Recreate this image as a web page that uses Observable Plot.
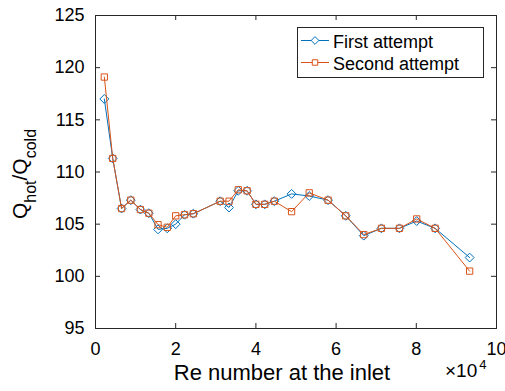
<!DOCTYPE html>
<html>
<head>
<meta charset="utf-8">
<script src="https://cdn.jsdelivr.net/npm/d3@7"></script>
<script src="https://cdn.jsdelivr.net/npm/@observablehq/plot@0.6"></script>
<style>
  body { margin: 0; background: #fff; }
  #chart { position: relative; width: 505px; height: 391px; }
</style>
</head>
<body>
<div id="chart"></div>
<script>
// ---- data (Re number at the inlet, Q_hot / Q_cold) ----
const reNumber = [2200, 4300, 6500, 8800, 11200, 13300, 15600, 17900, 20000, 22200, 24400,
                  31100, 33300, 35600, 37800, 40000, 42200, 44600, 48900, 53300, 58000,
                  62400, 66900, 71300, 75800, 80100, 84700, 93300];
const firstAttempt  = [117.0, 111.3, 106.5, 107.3, 106.4, 106.05, 104.5, 104.6, 105.0, 105.9, 106.0,
                       107.2, 106.6, 108.2, 108.2, 106.9, 106.9, 107.2, 107.9, 107.7, 107.3,
                       105.8, 103.9, 104.6, 104.6, 105.3, 104.6, 101.8];
const secondAttempt = [119.1, 111.3, 106.5, 107.3, 106.4, 106.05, 104.95, 104.7, 105.8, 105.9, 106.0,
                       107.2, 107.2, 108.3, 108.2, 106.9, 106.9, 107.2, 106.2, 108.0, 107.3,
                       105.8, 104.0, 104.6, 104.6, 105.5, 104.6, 100.5];
const seriesNames = ["First attempt", "Second attempt"];
const seriesColors = ["#0072BD", "#D95319"];
const xTicks = [0, 2, 4, 6, 8, 10];      // in units of 10^4
const yTicks = [95, 100, 105, 110, 115, 120, 125];
const xExponent = 4;

// ---- layout ----
const W = 505, H = 391;
const mL = 95, mR = 9, mT = 15, mB = 63;
const pw = W - mL - mR, ph = H - mT - mB;
const axisColor = "#262626";
const font = "'Liberation Sans', Arial, Helvetica, sans-serif";

const first = reNumber.map((re, i) => ({x: re / Math.pow(10, xExponent), y: firstAttempt[i]}));
const second = reNumber.map((re, i) => ({x: re / Math.pow(10, xExponent), y: secondAttempt[i]}));

const chart = Plot.plot({
  width: W, height: H,
  marginLeft: mL, marginRight: mR, marginTop: mT, marginBottom: mB,
  style: {fontFamily: font, fontSize: "18px", color: axisColor, background: "white", overflow: "visible"},
  x: {domain: [xTicks[0], xTicks[xTicks.length - 1]]},
  y: {domain: [yTicks[0], yTicks[yTicks.length - 1]]},
  marks: [
    Plot.frame({stroke: axisColor, strokeWidth: 1}),
    Plot.tickX(xTicks, {x: d => d, insetTop: ph - 5, stroke: axisColor}),
    Plot.tickX(xTicks, {x: d => d, insetBottom: ph - 5, stroke: axisColor}),
    Plot.tickY(yTicks, {y: d => d, insetRight: pw - 5, stroke: axisColor}),
    Plot.tickY(yTicks, {y: d => d, insetLeft: pw - 5, stroke: axisColor}),
    Plot.axisX(xTicks, {tickSize: 0, tickPadding: 14, label: null, fontSize: 18, fill: "#000"}),
    Plot.axisY(yTicks, {tickSize: 0, tickPadding: 11, label: null, fontSize: 18, fill: "#000"}),
    Plot.line(first, {x: "x", y: "y", stroke: seriesColors[0], strokeWidth: 1}),
    Plot.dot(first, {x: "x", y: "y", symbol: "diamond2", r: 4, stroke: seriesColors[0], fill: "none", strokeWidth: 1}),
    Plot.line(second, {x: "x", y: "y", stroke: seriesColors[1], strokeWidth: 1}),
    Plot.dot(second, {x: "x", y: "y", symbol: "square2", r: 4, stroke: seriesColors[1], fill: "none", strokeWidth: 1})
  ]
});

document.getElementById("chart").appendChild(chart);
const svg = d3.select(chart);

// x label
svg.append("text")
  .attr("x", 282).attr("y", 380)
  .attr("text-anchor", "middle")
  .attr("font-family", font).attr("font-size", 22).attr("fill", "#000")
  .text("Re number at the inlet");

// x exponent
const ex = svg.append("text")
  .attr("x", 445).attr("y", 377)
  .attr("text-anchor", "start")
  .attr("font-family", font).attr("font-size", 19).attr("fill", "#000");
ex.append("tspan").text("\u00d710");
ex.append("tspan").attr("dy", -8).attr("dx", 2).attr("font-size", 13).text(String(xExponent));

// y label with subscripts
const yl = svg.append("text")
  .attr("transform", "translate(27,174) rotate(-90)")
  .attr("text-anchor", "middle")
  .attr("font-family", font).attr("font-size", 21).attr("fill", "#000");
yl.append("tspan").text("Q");
yl.append("tspan").attr("font-size", 16).attr("dy", 9).text("hot");
yl.append("tspan").attr("dy", -9).text("/Q");
yl.append("tspan").attr("font-size", 16).attr("dy", 9).text("cold");

// legend
const lg = svg.append("g").attr("text-anchor", "start");
lg.append("rect").attr("x", 297.5).attr("y", 27.5).attr("width", 186).attr("height", 50)
  .attr("fill", "white").attr("stroke", axisColor).attr("stroke-width", 1);
const symbols = [d3.symbolDiamond2, d3.symbolSquare2];
seriesNames.forEach((name, i) => {
  const cy = 40.5 + i * 22;
  lg.append("line").attr("x1", 301).attr("x2", 329).attr("y1", cy).attr("y2", cy)
    .attr("stroke", seriesColors[i]).attr("stroke-width", 1);
  lg.append("path").attr("d", d3.symbol(symbols[i], Math.PI * 12)())
    .attr("transform", `translate(315,${cy})`)
    .attr("fill", "white").attr("stroke", seriesColors[i]).attr("stroke-width", 1);
  lg.append("text").attr("x", 333).attr("y", cy + 7)
    .attr("text-anchor", "start")
    .attr("font-family", font).attr("font-size", 18).attr("fill", "#000")
    .text(name);
});
</script>
</body>
</html>
